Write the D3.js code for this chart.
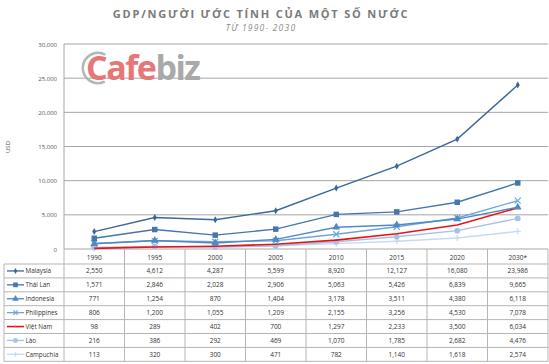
<!DOCTYPE html>
<html>
<head>
<meta charset="utf-8">
<script src="https://cdn.jsdelivr.net/npm/d3@7"></script>
<style>
  body { margin: 0; background: #fff; }
  text { font-family: "Open Sans", "DejaVu Sans", sans-serif; }
</style>
</head>
<body>
<svg id="chart"></svg>
<script>
// years (columns) and the values per country
const years = ["1990", "1995", "2000", "2005", "2010", "2015", "2020", "2030*"];
const yTicks = [0, 5000, 10000, 15000, 20000, 25000, 30000];

const malaysia = [2550, 4612, 4287, 5599, 8920, 12127, 16080, 23986];
const thaiLan = [1571, 2846, 2028, 2906, 5063, 5426, 6839, 9665];
const indonesia = [771, 1254, 870, 1404, 3178, 3511, 4380, 6118];
const philippines = [806, 1200, 1055, 1209, 2155, 3256, 4530, 7078];
const vietNam = [98, 289, 402, 700, 1297, 2233, 3500, 6034];
const lao = [216, 386, 292, 469, 1070, 1785, 2682, 4476];
const campuchia = [113, 320, 300, 471, 782, 1140, 1618, 2574];

const series = [
  {name: "Malaysia", values: malaysia, color: "#3b6896", marker: "diamond"},
  {name: "Thái Lan", values: thaiLan, color: "#4477ad", marker: "square"},
  {name: "Indonesia", values: indonesia, color: "#4e8ac6", marker: "triangle"},
  {name: "Philippines", values: philippines, color: "#6ea6da", marker: "cross"},
  {name: "Việt Nam", values: vietNam, color: "#ee1111", marker: "none"},
  {name: "Lào", values: lao, color: "#a5c2e6", marker: "circle"},
  {name: "Campuchia", values: campuchia, color: "#c8daf0", marker: "plus"}
];

const width = 549, height = 364;
const plotL = 64, plotR = 548, plotT = 44, plotB = 249;
const rowH = 13.9;
const tableTop = plotB + 15;

const svg = d3.select("#chart")
  .attr("width", width)
  .attr("height", height)
  .attr("viewBox", [0, 0, width, height]);

const x = d3.scaleBand().domain(years).range([plotL, plotR]);
const y = d3.scaleLinear().domain([0, 30000]).range([plotB, plotT]);

// title
svg.append("text")
  .attr("x", 261).attr("y", 18)
  .attr("text-anchor", "middle")
  .attr("font-size", 11).attr("font-weight", "bold")
  .attr("letter-spacing", 1.8)
  .attr("fill", "#7a7a7a")
  .text("GDP/NGƯỜI ƯỚC TÍNH CỦA MỘT SỐ NƯỚC");

svg.append("text")
  .attr("x", 261).attr("y", 31)
  .attr("text-anchor", "middle")
  .attr("font-size", 8.5).attr("font-style", "italic")
  .attr("letter-spacing", 1.2)
  .attr("fill", "#8a8a8a")
  .text("TỪ 1990- 2030");

// gridlines
svg.append("g")
  .selectAll("line")
  .data(yTicks)
  .join("line")
  .attr("x1", plotL).attr("x2", plotR)
  .attr("y1", d => y(d)).attr("y2", d => y(d))
  .attr("stroke", "#a6a6a6").attr("stroke-width", 1);

svg.append("line")
  .attr("x1", plotL).attr("x2", plotL)
  .attr("y1", plotT).attr("y2", plotB)
  .attr("stroke", "#a6a6a6");

// y labels
svg.append("g")
  .selectAll("text")
  .data(yTicks)
  .join("text")
  .attr("x", 57).attr("y", d => y(d) + 2.5)
  .attr("text-anchor", "end")
  .attr("font-size", 6).attr("fill", "#555")
  .text(d => d3.format(",")(d));

svg.append("text")
  .attr("transform", "translate(10,147) rotate(-90)")
  .attr("text-anchor", "middle")
  .attr("font-size", 6).attr("fill", "#555")
  .text("USD");

// logo
svg.append("path")
  .attr("d", d3.arc()({innerRadius: 14, outerRadius: 16.5, startAngle: -3.6, endAngle: 0.5}))
  .attr("transform", "translate(98,68)")
  .attr("fill", "#b5b5b5");
const logo = svg.append("text")
  .attr("x", 86).attr("y", 80)
  .attr("font-family", "Liberation Sans, Arial, sans-serif")
  .attr("font-size", 34).attr("font-weight", "bold")
  .attr("letter-spacing", -1.5);
logo.append("tspan").attr("fill", "#e77676").text("Cafe");
logo.append("tspan").attr("fill", "#a9a9a9").text("biz");

// marker drawing
function drawMarker(g, type, color, size) {
  if (type === "none") return;
  if (type === "cross" || type === "plus") {
    const s = size;
    const p = type === "cross"
      ? `M${-s},${-s}L${s},${s}M${-s},${s}L${s},${-s}`
      : `M${-s},0L${s},0M0,${-s}L0,${s}`;
    g.append("path").attr("d", p).attr("stroke", color).attr("stroke-width", 1.2).attr("fill", "none");
    return;
  }
  const symbols = {
    diamond: d3.symbolDiamond, square: d3.symbolSquare,
    triangle: d3.symbolTriangle, circle: d3.symbolCircle
  };
  const area = {diamond: 14, square: 30, triangle: 26, circle: 26}[type];
  g.append("path").attr("d", d3.symbol(symbols[type], area * size / 3)()).attr("fill", color);
}

// lines
const line = d3.line()
  .x((d, i) => x(years[i]) + x.bandwidth() / 2)
  .y(d => y(d));

const linesG = svg.append("g");
series.slice().reverse().forEach(s => {
  linesG.append("path")
    .datum(s.values)
    .attr("fill", "none")
    .attr("stroke", s.color)
    .attr("stroke-width", s.name === "Việt Nam" ? 1.6 : 1.4)
    .attr("d", line);
  s.values.forEach((v, i) => {
    const g = linesG.append("g")
      .attr("transform", `translate(${x(years[i]) + x.bandwidth() / 2},${y(v)})`);
    drawMarker(g, s.marker, s.color, 3);
  });
});

// table
const grid = "#b5b5b5";
const tableBottom = tableTop + rowH * series.length;

// year header
svg.append("g")
  .selectAll("text")
  .data(years)
  .join("text")
  .attr("x", d => x(d) + x.bandwidth() / 2)
  .attr("y", plotB + 10.5)
  .attr("text-anchor", "middle")
  .attr("font-size", 6.5).attr("fill", "#333")
  .text(d => d);

// vertical lines
const vx = [plotL].concat(years.map(d => x(d) + x.bandwidth()));
svg.append("g")
  .selectAll("line")
  .data(vx)
  .join("line")
  .attr("x1", d => d).attr("x2", d => d)
  .attr("y1", plotB).attr("y2", tableBottom)
  .attr("stroke", grid);
svg.append("line")
  .attr("x1", 4).attr("x2", 4)
  .attr("y1", tableTop).attr("y2", tableBottom)
  .attr("stroke", grid);

// horizontal lines
svg.append("g")
  .selectAll("line")
  .data(d3.range(series.length + 1))
  .join("line")
  .attr("x1", 4).attr("x2", plotR)
  .attr("y1", i => tableTop + i * rowH).attr("y2", i => tableTop + i * rowH)
  .attr("stroke", grid);

const rows = svg.append("g")
  .selectAll("g")
  .data(series)
  .join("g")
  .attr("transform", (d, i) => `translate(0,${tableTop + i * rowH + rowH / 2})`);

rows.append("line")
  .attr("x1", 7).attr("x2", 24)
  .attr("stroke", d => d.color)
  .attr("stroke-width", d => d.name === "Việt Nam" ? 1.6 : 1.3);
rows.each(function(d) {
  const g = d3.select(this).append("g").attr("transform", "translate(15.5,0)");
  drawMarker(g, d.marker, d.color, 2.2);
  if (d.marker === "none") {
    d3.select(this).append("path").attr("d", "M15.5,-1.5L15.5,1.5").attr("stroke", "#6ea6da").attr("stroke-width", 0.8);
  }
});
rows.append("text")
  .attr("x", 25.5).attr("y", 2.3)
  .attr("font-size", 6.3).attr("fill", "#333")
  .text(d => d.name);

rows.selectAll("text.val")
  .data(d => d.values)
  .join("text")
  .attr("class", "val")
  .attr("x", (v, i) => x(years[i]) + x.bandwidth() / 2)
  .attr("y", 2.3)
  .attr("text-anchor", "middle")
  .attr("font-size", 6.5).attr("fill", "#333")
  .text(v => d3.format(",")(v));
</script>
</body>
</html>
